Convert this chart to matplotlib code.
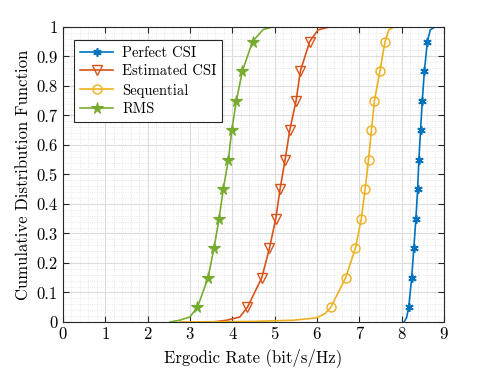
import matplotlib
matplotlib.use('Agg')
import matplotlib.pyplot as plt
from matplotlib.ticker import MultipleLocator

plt.rcParams['font.family'] = 'serif'
plt.rcParams['font.serif'] = ['cmr10', 'DejaVu Serif']
plt.rcParams['mathtext.fontset'] = 'cm'
plt.rcParams['axes.formatter.use_mathtext'] = True

# CDF values (tails + marker points)
perfect_x = [8.06, 8.12, 8.17, 8.24, 8.29, 8.34, 8.38, 8.41, 8.45, 8.49, 8.54, 8.61, 8.68, 8.79]
perfect_y = [0.0, 0.015, 0.05, 0.15, 0.25, 0.35, 0.45, 0.55, 0.65, 0.75, 0.85, 0.95, 0.99, 1.0]
perfect_marks = list(range(2, 12))

estimated_x = [3.55, 3.87, 4.18, 4.36, 4.70, 4.88, 5.03, 5.13, 5.25, 5.36, 5.51, 5.61, 5.83, 6.03, 6.31]
estimated_y = [0.0, 0.006, 0.017, 0.05, 0.15, 0.25, 0.35, 0.45, 0.55, 0.65, 0.75, 0.85, 0.95, 0.99, 1.0]
estimated_marks = list(range(3, 13))

sequential_x = [2.76, 4.5, 5.44, 5.99, 6.19, 6.33, 6.68, 6.91, 7.05, 7.14, 7.22, 7.29, 7.36, 7.49, 7.61, 7.70, 7.82]
sequential_y = [0.0, 0.002, 0.006, 0.014, 0.028, 0.05, 0.15, 0.25, 0.35, 0.45, 0.55, 0.65, 0.75, 0.85, 0.95, 0.99, 1.0]
sequential_marks = list(range(5, 15))

rms_x = [2.53, 2.76, 3.0, 3.18, 3.43, 3.57, 3.69, 3.79, 3.91, 3.99, 4.10, 4.24, 4.48, 4.73, 4.97]
rms_y = [0.0, 0.006, 0.017, 0.05, 0.15, 0.25, 0.35, 0.45, 0.55, 0.65, 0.75, 0.85, 0.95, 0.991, 1.0]
rms_marks = list(range(3, 13))

x_ticks = [0, 1, 2, 3, 4, 5, 6, 7, 8, 9]
y_ticks = [0, 0.1, 0.2, 0.3, 0.4, 0.5, 0.6, 0.7, 0.8, 0.9, 1]
y_labels = ['0', '0.1', '0.2', '0.3', '0.4', '0.5', '0.6', '0.7', '0.8', '0.9', '1']

fig = plt.figure(figsize=(4.91, 3.68), dpi=100)
ax = fig.add_axes([0.128, 0.125, 0.776, 0.802])

ax.plot(perfect_x, perfect_y, color='#0072BD', lw=1.2, marker=(6, 2, 0), ms=6,
        mew=1.2, markevery=perfect_marks, label='Perfect CSI')
ax.plot(estimated_x, estimated_y, color='#D95319', lw=1.2, marker='v', ms=6.5,
        mfc='none', mew=1.0, markevery=estimated_marks, label='Estimated CSI')
ax.plot(sequential_x, sequential_y, color='#EDB120', lw=1.2, marker='o', ms=6.5,
        mfc='none', mew=1.0, markevery=sequential_marks, label='Sequential')
ax.plot(rms_x, rms_y, color='#77AC30', lw=1.2, marker='*', ms=8.5,
        mew=0.8, markevery=rms_marks, label='RMS')

ax.set_xlim(0, 9)
ax.set_ylim(0, 1)
ax.set_xticks(x_ticks)
ax.set_xticklabels([str(t) for t in x_ticks])
ax.set_yticks(y_ticks)
ax.set_yticklabels(y_labels)
ax.xaxis.set_minor_locator(MultipleLocator(0.2))
ax.yaxis.set_minor_locator(MultipleLocator(0.02))

ax.grid(True, which='major', color='#dcdcdc', lw=0.8)
ax.grid(True, which='minor', color='#e0e0e0', lw=0.6, ls=':')
ax.set_axisbelow(True)
ax.tick_params(which='both', direction='in', top=True, right=True, colors='#262626',
               labelcolor='black', labelsize=12)
ax.tick_params(which='minor', length=0)
ax.tick_params(which='major', length=4)
for s in ax.spines.values():
    s.set_color('#262626')
    s.set_linewidth(0.8)

ax.set_xlabel('Ergodic Rate (bit/s/Hz)', fontsize=12)
ax.set_ylabel('Cumulative Distribution Function', fontsize=12)

leg = ax.legend(loc='upper left', fontsize=10.5, handlelength=2.3, handletextpad=0.6,
                labelspacing=0.35, borderpad=0.4, fancybox=False, framealpha=1,
                edgecolor='#262626', bbox_to_anchor=(0.01, 0.98))
leg.get_frame().set_linewidth(0.8)

fig.savefig('out.png', dpi=100)
